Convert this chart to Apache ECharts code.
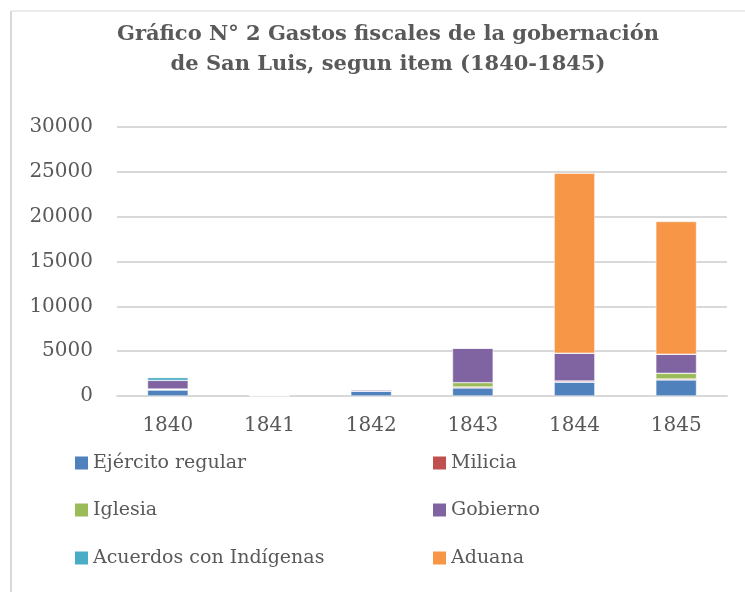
<!DOCTYPE html>
<html>
<head>
<meta charset="utf-8">
<script src="https://cdn.jsdelivr.net/npm/echarts@6/dist/echarts.min.js"></script>
<style>
  html, body { margin: 0; padding: 0; background: #fff; }
  #main { width: 745px; height: 592px; }
</style>
</head>
<body>
<div id="main"></div>
<script>
// años
var years = ['1840', '1841', '1842', '1843', '1844', '1845'];
// gastos por item
var ejercito  = [670, 40, 560, 900, 1530, 1790];
var milicia   = [50, 0, 0, 110, 150, 110];
var iglesia   = [60, 0, 0, 480, 0, 630];
var gobierno  = [960, 60, 150, 3850, 3100, 2130];
var acuerdos  = [330, 0, 0, 0, 0, 0];
var aduana    = [0, 0, 0, 0, 20060, 14800];

var seriesNames = ['Ejército regular', 'Milicia', 'Iglesia', 'Gobierno', 'Acuerdos con Indígenas', 'Aduana'];
var seriesData = [ejercito, milicia, iglesia, gobierno, acuerdos, aduana];
var colors = ['#4f81bd', '#c0504d', '#9bbb59', '#8064a2', '#4bacc6', '#f79646'];

var fontFam = "DejaVu Serif";

// leyenda dibujada a mano (2 columnas x 3 filas) para que use la fuente serif
var legendItems = [];
seriesNames.forEach(function (name, i) {
    var x = (i % 2 === 0) ? 75 : 433;
    var y = [463, 510, 558][Math.floor(i / 2)];
    legendItems.push({
        type: 'rect',
        shape: { x: x, y: y - 6.5, width: 13, height: 13 },
        style: { fill: colors[i] }
    });
    legendItems.push({
        type: 'text',
        x: x + 18, y: y,
        style: {
            text: name, fill: '#595959',
            font: '19px "' + fontFam + '"',
            verticalAlign: 'middle'
        }
    });
});

var myChart = echarts.init(document.getElementById('main'));
myChart.setOption({
    animation: false,
    color: colors,
    textStyle: { fontFamily: fontFam },
    title: {
        text: 'Gráfico N° 2 Gastos fiscales de la gobernación\nde San Luis, segun item (1840-1845)',
        left: 383,
        top: 15,
        textAlign: 'center',
        textStyle: {
            fontFamily: fontFam,
            fontSize: 21,
            fontWeight: 'bold',
            color: '#595959',
            lineHeight: 30
        }
    },
    graphic: [
        { type: 'line', shape: { x1: 11, y1: 11, x2: 745, y2: 11 }, style: { stroke: '#d9d9d9', lineWidth: 1 } },
        { type: 'line', shape: { x1: 11, y1: 11, x2: 11, y2: 592 }, style: { stroke: '#d9d9d9', lineWidth: 2 } }
    ].concat(legendItems),
    grid: {
        left: 117,
        right: 18,
        top: 127,
        bottom: 196
    },
    xAxis: {
        type: 'category',
        data: years,
        axisLine: { lineStyle: { color: '#d9d9d9', width: 2 } },
        axisTick: { show: false },
        axisLabel: { fontFamily: fontFam, fontSize: 20, color: '#595959', margin: 20 }
    },
    yAxis: {
        type: 'value',
        min: 0,
        max: 30000,
        interval: 5000,
        axisLine: { show: false },
        axisTick: { show: false },
        axisLabel: {
            fontFamily: fontFam, fontSize: 20, color: '#595959', margin: 24,
            formatter: function (v) { return String(v); }
        },
        splitLine: { lineStyle: { color: '#d9d9d9', width: 2 } }
    },
    series: seriesNames.map(function (name, i) {
        return {
            name: name,
            type: 'bar',
            stack: 'total',
            barWidth: '40%',
            data: seriesData[i],
            itemStyle: { borderColor: '#ffffff', borderWidth: 0.5 }
        };
    })
});
</script>
</body>
</html>
